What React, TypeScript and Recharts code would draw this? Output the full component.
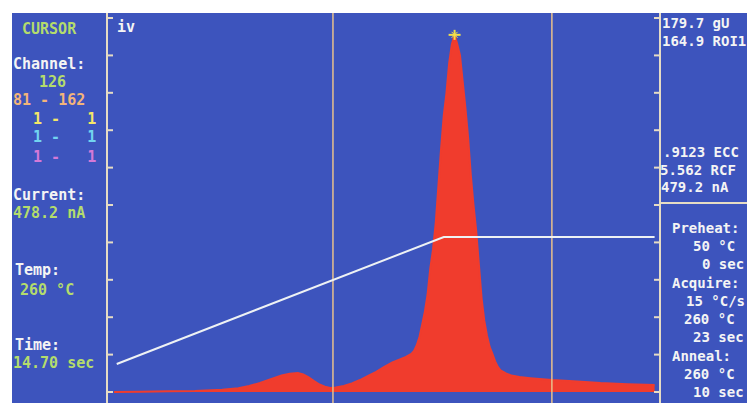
import React from "react";
import {
  ComposedChart,
  Area,
  Line,
  Scatter,
  XAxis,
  YAxis,
  ReferenceLine,
} from "recharts";

// glow curve (channel -> relative counts)
const glowChannels = [
  0, 10, 20, 30, 40, 46, 50, 54, 58, 62, 65, 68, 70, 72, 74, 76, 78, 80, 82, 85,
  88, 91, 94, 97, 100, 103, 106, 108, 110, 111, 112, 113, 114, 115, 116, 117,
  118, 119, 120, 121, 122, 123, 124, 125, 126, 127, 128, 129, 130, 131, 132,
  133, 134, 135, 136, 137, 138, 139, 140, 141, 142, 143, 145, 147, 150, 154,
  162, 170, 180, 190, 200,
];
const glowCounts = [
  0, 0.1, 0.2, 0.3, 0.6, 1.0, 1.6, 2.4, 3.4, 4.4, 4.9, 5.1, 4.7, 3.9, 2.9, 2.0,
  1.4, 1.1, 1.2, 1.6, 2.3, 3.2, 4.3, 5.4, 6.7, 7.9, 8.8, 9.4, 10.2, 11, 12.5,
  14.7, 18, 21.5, 26, 33, 38, 45, 55, 65, 74, 80, 88, 93, 95.5, 93, 90, 83, 76,
  68, 58, 50, 43, 34, 25, 19, 15, 12, 10.2, 8.2, 6.7, 5.8, 5.0, 4.4, 4.0, 3.7,
  3.2, 2.9, 2.4, 2.1, 1.9,
];

// heating profile (channel -> degC)
const tempChannels = [1, 122, 200];
const tempValues = [50, 260, 260];

const cursorChannels = [81, 162];
const peakChannel = 126;
const peakCounts = 95.5;
const gridTicks = [0, 10, 20, 30, 40, 50, 60, 70, 80, 90, 100];

const glowData = glowChannels.map((ch, i) => ({ ch, v: glowCounts[i] }));
const tempData = tempChannels.map((ch, i) => ({ ch, t: tempValues[i] }));
const peakData = [{ ch: peakChannel, v: peakCounts }];

const BLUE = "#3d54bd";
const RED = "#f03c2d";
const AXIS = "#e6dcc4";
const CURSOR = "#e8c08c";
const FONT = "'DejaVu Sans Mono', 'Liberation Mono', monospace";

const StarMark = (props: any) => {
  const { cx, cy } = props;
  const c = "#f2e04a";
  return (
    <g stroke={c} strokeWidth={2}>
      <line x1={cx - 6} y1={cy} x2={cx + 6} y2={cy} />
      <line x1={cx} y1={cy - 5} x2={cx} y2={cy + 5} />
      <line x1={cx - 3} y1={cy - 3} x2={cx + 3} y2={cy + 3} strokeWidth={1} />
      <line x1={cx - 3} y1={cy + 3} x2={cx + 3} y2={cy - 3} strokeWidth={1} />
    </g>
  );
};

function Txt({ x, y, color = "#f4f4f4", size = 15, children }: any) {
  return (
    <div
      style={{
        position: "absolute",
        left: x,
        top: y - 9,
        lineHeight: "18px",
        fontSize: size,
        fontWeight: "bold",
        fontFamily: FONT,
        color,
        whiteSpace: "pre",
      }}
    >
      {children}
    </div>
  );
}

export default function App() {
  const green = "#b4dc6c";
  const rs = 14;
  return (
    <div
      style={{
        position: "absolute",
        left: 0,
        top: 0,
        width: 747,
        height: 403,
        background: "#ffffff",
        overflow: "hidden",
      }}
    >
      <div
        style={{
          position: "absolute",
          left: 12,
          top: 13,
          right: 0,
          bottom: 0,
          background: BLUE,
        }}
      />
      <div style={{ position: "absolute", left: 0, top: 0 }}>
        <ComposedChart
          width={747}
          height={403}
          margin={{ top: 13, right: 87, bottom: 0, left: 107 }}
        >
          <XAxis
            dataKey="ch"
            type="number"
            domain={[-2.6, 202]}
            allowDataOverflow
            hide
          />
          <YAxis
            yAxisId="glow"
            type="number"
            domain={[-2.94, 101.34]}
            allowDataOverflow
            ticks={gridTicks}
            width={20}
            mirror
            tickSize={6}
            tickFormatter={() => ""}
            axisLine={{ stroke: AXIS, strokeWidth: 2 }}
            tickLine={{ stroke: AXIS, strokeWidth: 2 }}
          />
          <YAxis
            yAxisId="frame"
            orientation="right"
            type="number"
            domain={[-2.94, 101.34]}
            allowDataOverflow
            ticks={gridTicks}
            width={20}
            mirror
            tickSize={6}
            tickFormatter={() => ""}
            axisLine={{ stroke: AXIS, strokeWidth: 2 }}
            tickLine={{ stroke: AXIS, strokeWidth: 2 }}
          />
          <YAxis
            yAxisId="temp"
            type="number"
            domain={[-14.5, 630.4]}
            allowDataOverflow
            hide
          />
          {cursorChannels.map((c) => (
            <ReferenceLine
              key={c}
              yAxisId="glow"
              x={c}
              stroke={CURSOR}
              strokeWidth={1.5}
            />
          ))}
          <Area
            yAxisId="glow"
            data={glowData}
            dataKey="v"
            type="linear"
            baseValue={0}
            fill={RED}
            fillOpacity={1}
            stroke={RED}
            strokeWidth={2}
            isAnimationActive={false}
          />
          <Line
            yAxisId="temp"
            data={tempData}
            dataKey="t"
            type="linear"
            stroke="#eef2f4"
            strokeWidth={2}
            dot={false}
            isAnimationActive={false}
          />
          <Scatter
            yAxisId="glow"
            data={peakData}
            dataKey="v"
            shape={<StarMark />}
            isAnimationActive={false}
          />
        </ComposedChart>
      </div>

      <Txt x={117} y={27}>iv</Txt>

      <Txt x={22} y={29} color={green}>CURSOR</Txt>
      <Txt x={13} y={64}>Channel:</Txt>
      <Txt x={39} y={82} color={green}>126</Txt>
      <Txt x={13} y={100} color="#f2b47a">{"81 - 162"}</Txt>
      <Txt x={33} y={119} color="#f4e668">{"1 -   1"}</Txt>
      <Txt x={33} y={137} color="#72d4f0">{"1 -   1"}</Txt>
      <Txt x={33} y={157} color="#d479d8">{"1 -   1"}</Txt>
      <Txt x={13} y={195}>Current:</Txt>
      <Txt x={13} y={213} color={green}>478.2 nA</Txt>
      <Txt x={15} y={270}>Temp:</Txt>
      <Txt x={20} y={290} color={green}>260 °C</Txt>
      <Txt x={15} y={345}>Time:</Txt>
      <Txt x={13} y={363} color={green}>14.70 sec</Txt>

      <Txt x={662} y={23} size={rs}>179.7 gU</Txt>
      <Txt x={662} y={41} size={rs}>164.9 ROI1</Txt>
      <Txt x={663} y={152} size={rs}>.9123 ECC</Txt>
      <Txt x={660} y={170} size={rs}>5.562 RCF</Txt>
      <Txt x={661} y={187} size={rs}>479.2 nA</Txt>

      <div
        style={{
          position: "absolute",
          left: 661,
          top: 202,
          width: 86,
          height: 2,
          background: AXIS,
        }}
      />
      <Txt x={672} y={228} size={rs}>Preheat:</Txt>
      <Txt x={693} y={246} size={rs}>50 °C</Txt>
      <Txt x={702} y={264} size={rs}>0 sec</Txt>
      <Txt x={672} y={283} size={rs}>Acquire:</Txt>
      <Txt x={686} y={301} size={rs}>15 °C/s</Txt>
      <Txt x={684} y={319} size={rs}>260 °C</Txt>
      <Txt x={693} y={337} size={rs}>23 sec</Txt>
      <Txt x={672} y={356} size={rs}>Anneal:</Txt>
      <Txt x={684} y={374} size={rs}>260 °C</Txt>
      <Txt x={693} y={392} size={rs}>10 sec</Txt>
    </div>
  );
}
